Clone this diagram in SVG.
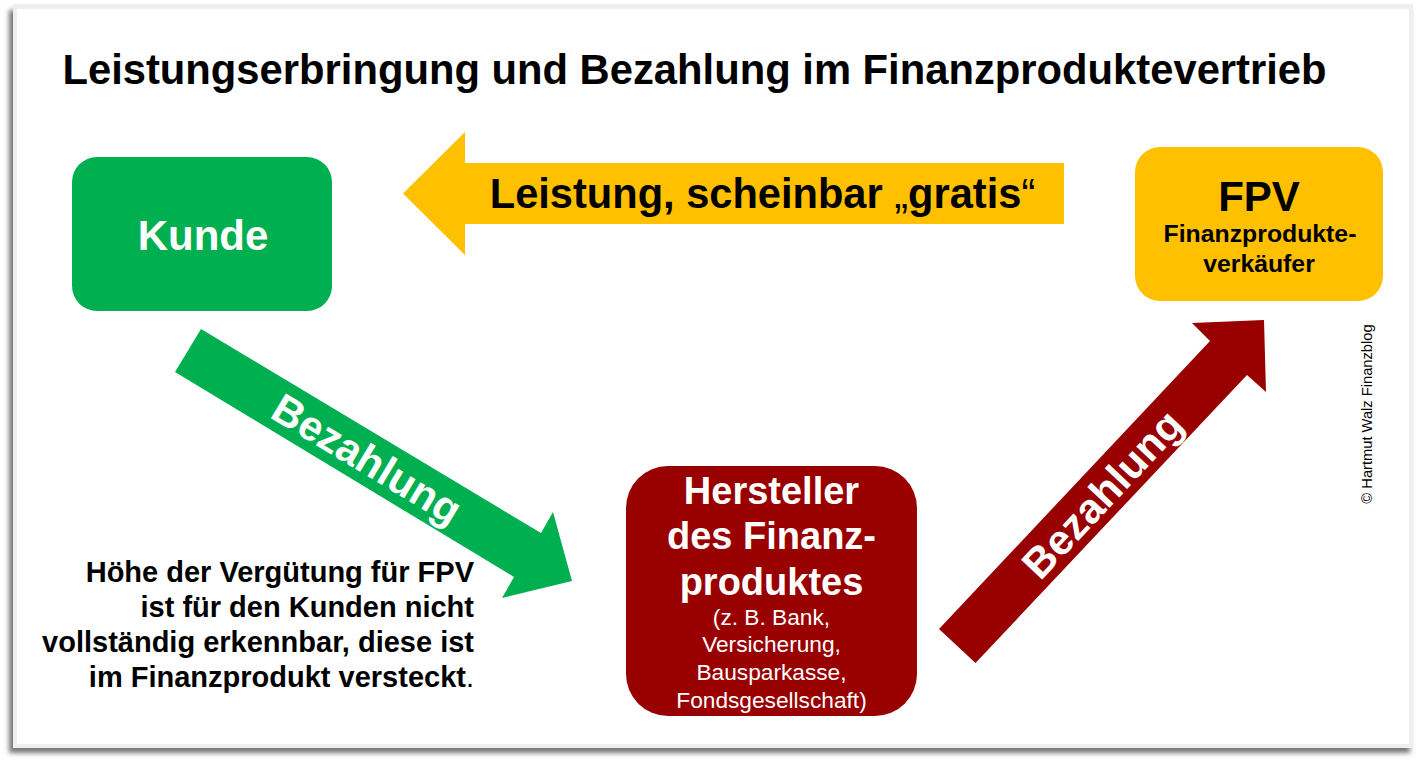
<svg xmlns="http://www.w3.org/2000/svg" width="1418" height="761" viewBox="0 0 1418 761">
<style>
text{font-family:"Liberation Sans",Arial,sans-serif;font-weight:bold;text-anchor:middle}
.w{fill:#fff}.k{fill:#000}
.n{font-weight:normal}
</style>
<defs>
<filter id="sh" x="-3%" y="-3%" width="106%" height="106%"><feGaussianBlur stdDeviation="2.5"/></filter>
</defs>
<rect width="1418" height="761" fill="#fff"/>
<g id="frame">
<rect x="9" y="10" width="1401" height="743" fill="#777" filter="url(#sh)"/>
<rect x="13" y="4" width="1400" height="744" fill="#efefef"/>
<rect x="17" y="9" width="1392" height="735" fill="#fff"/>
</g>
<text id="title" x="694.500" y="84" font-size="41.750" class="k">Leistungserbringung und Bezahlung im Finanzproduktevertrieb</text>
<g id="connectors">
<g id="arrow-leistung">
<polygon points="1064,163 465,163 465,132 403,193.500 465,255 465,224 1064,224" fill="#ffc000"/>
<text x="762.500" y="208" font-size="41.600" class="k">Leistung, scheinbar <tspan class="n">„</tspan>gratis<tspan class="n">“</tspan></text>
</g>
<g id="arrow-bezahlung-kunde">
<polygon points="201,329 175,372 514,577 502,598 572,581 553,512 541,533" fill="#00b050"/>
<text transform="translate(359.500 471.500) rotate(31)" font-size="42" class="w">Bezahlung</text>
</g>
<g id="arrow-bezahlung-hersteller">
<polygon points="939,629 975.500,663 1247,375 1266,392 1264,320 1192,323 1210,341" fill="#990000"/>
<text transform="translate(1113 504) rotate(-46.800)" font-size="42" class="w">Bezahlung</text>
</g>
</g>
<g id="kunde">
<rect x="72" y="157" width="260" height="154" rx="25" fill="#00b050"/>
<text x="203" y="250" font-size="42" class="w">Kunde</text>
</g>
<g id="fpv">
<rect x="1135" y="147" width="248" height="154" rx="25" fill="#ffc000"/>
<text x="1259" y="211" font-size="42" class="k">FPV</text>
<text x="1260" y="242" font-size="24.800" class="k">Finanzprodukte-</text>
<text x="1259" y="272" font-size="24.800" class="k">verkäufer</text>
</g>
<g id="hersteller">
<rect x="626" y="466" width="291" height="250" rx="42" fill="#990000"/>
<text x="771.500" y="504" font-size="38" class="w">Hersteller</text>
<text x="771.500" y="549" font-size="38" class="w">des Finanz-</text>
<text x="771.500" y="595" font-size="38" class="w">produktes</text>
<text x="771.500" y="625" font-size="22.700" class="w n">(z. B. Bank,</text>
<text x="771.500" y="652" font-size="22.700" class="w n">Versicherung,</text>
<text x="771.500" y="680" font-size="22.700" class="w n">Bausparkasse,</text>
<text x="771.500" y="708" font-size="22.700" class="w n">Fondsgesellschaft)</text>
</g>
<g id="note">
<text x="474" y="582" font-size="29" class="k" style="text-anchor:end">Höhe der Vergütung für FPV</text>
<text x="474" y="617" font-size="29" class="k" style="text-anchor:end">ist für den Kunden nicht</text>
<text x="474" y="652" font-size="29" class="k" style="text-anchor:end">vollständig erkennbar, diese ist</text>
<text x="474" y="687" font-size="29" class="k" style="text-anchor:end">im Finanzprodukt versteckt<tspan class="n">.</tspan></text>
</g>
<text id="copyright" transform="translate(1372 414) rotate(-90)" font-size="14.700" class="k n">© Hartmut Walz Finanzblog</text>
</svg>
